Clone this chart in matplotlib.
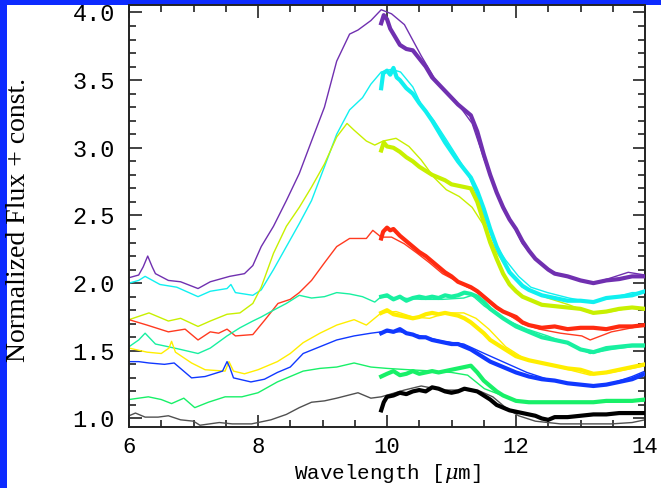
import matplotlib
matplotlib.use("Agg")
import matplotlib.pyplot as plt
from matplotlib.patches import Rectangle
from matplotlib.ticker import MultipleLocator, FormatStrFormatter

# ---------------- data ----------------
colors = ["#7030B0", "#10F0F0", "#C8F000", "#FF2A10", "#18F0A0",
          "#FFEE00", "#1038FF", "#18F068", "#000000"]
thin_colors = ["#7030B0", "#10F0F0", "#C8F000", "#FF3A20", "#18F0A0",
               "#FFEE00", "#1038FF", "#18F068", "#505050"]

purple_thin_x = [6.00, 6.15, 6.22, 6.29, 6.36, 6.41, 6.61, 6.80, 7.07, 7.26, 7.56, 7.79, 7.92, 8.05, 8.24, 8.44, 8.64, 8.83, 9.03, 9.22, 9.42, 9.55, 9.75, 9.91, 10.07, 10.27, 10.53, 10.79, 11.06, 11.32, 11.51, 11.71, 11.91, 12.10, 12.30, 12.49, 12.76, 13.02, 13.21, 13.48, 13.74, 14.0]
purple_thin_y = [2.04, 2.06, 2.12, 2.20, 2.12, 2.07, 2.02, 2.01, 1.96, 2.01, 2.05, 2.07, 2.13, 2.27, 2.42, 2.61, 2.81, 3.05, 3.30, 3.64, 3.84, 3.87, 3.94, 4.02, 3.99, 3.91, 3.68, 3.47, 3.35, 3.18, 2.91, 2.66, 2.47, 2.29, 2.18, 2.10, 2.05, 2.02, 2.00, 2.04, 2.08, 2.06]
purple_thick_x = [9.91, 9.95, 10.0, 10.05, 10.1, 10.15, 10.2, 10.3, 10.4, 10.5, 10.6, 10.7, 10.8, 10.9, 11.0, 11.1, 11.2, 11.3, 11.4, 11.5, 11.6, 11.7, 11.8, 11.9, 12.0, 12.1, 12.2, 12.3, 12.4, 12.5, 12.6, 12.8, 13.0, 13.2, 13.4, 13.6, 13.8, 14.0]
purple_thick_y = [3.92, 3.98, 3.95, 3.88, 3.84, 3.80, 3.76, 3.73, 3.72, 3.66, 3.60, 3.52, 3.47, 3.42, 3.37, 3.32, 3.28, 3.24, 3.12, 2.95, 2.80, 2.67, 2.56, 2.47, 2.40, 2.31, 2.24, 2.18, 2.14, 2.10, 2.07, 2.05, 2.02, 2.00, 2.02, 2.03, 2.05, 2.05]

cyan_thin_x = [6.00, 6.15, 6.25, 6.48, 6.74, 7.07, 7.26, 7.52, 7.58, 7.65, 7.92, 8.05, 8.24, 8.44, 8.64, 8.83, 9.03, 9.22, 9.42, 9.62, 9.75, 9.91, 10.07, 10.21, 10.40, 10.53, 10.73, 10.92, 11.12, 11.25, 11.38, 11.51, 11.64, 11.84, 12.04, 12.23, 12.49, 12.82, 13.15, 13.48, 13.80, 14.0]
cyan_thin_y = [2.00, 2.02, 2.05, 1.99, 1.97, 1.90, 1.94, 1.96, 1.99, 1.93, 1.91, 1.95, 2.10, 2.27, 2.44, 2.61, 2.86, 3.10, 3.28, 3.37, 3.47, 3.56, 3.58, 3.56, 3.45, 3.32, 3.20, 3.06, 2.91, 2.81, 2.66, 2.49, 2.32, 2.17, 2.05, 1.97, 1.93, 1.89, 1.86, 1.89, 1.93, 1.93]
cyan_thick_x = [9.91, 9.94, 10.0, 10.05, 10.1, 10.15, 10.2, 10.3, 10.4, 10.5, 10.6, 10.7, 10.8, 10.9, 11.0, 11.1, 11.2, 11.3, 11.4, 11.5, 11.6, 11.7, 11.8, 11.9, 12.0, 12.1, 12.2, 12.3, 12.4, 12.6, 12.8, 13.0, 13.2, 13.4, 13.6, 13.8, 14.0]
cyan_thick_y = [3.44, 3.55, 3.57, 3.54, 3.59, 3.52, 3.50, 3.44, 3.40, 3.33, 3.27, 3.20, 3.12, 3.04, 2.97, 2.90, 2.84, 2.78, 2.68, 2.55, 2.40, 2.27, 2.17, 2.08, 2.03, 1.98, 1.95, 1.93, 1.91, 1.89, 1.87, 1.87, 1.86, 1.89, 1.90, 1.91, 1.94]

lime_thin_x = [6.00, 6.31, 6.61, 6.80, 7.07, 7.26, 7.52, 7.72, 7.92, 8.05, 8.24, 8.44, 8.64, 8.83, 9.03, 9.22, 9.38, 9.49, 9.68, 9.81, 9.94, 10.14, 10.34, 10.53, 10.73, 10.92, 11.12, 11.32, 11.51, 11.71, 11.91, 12.10, 12.30, 12.49, 12.82, 13.15, 13.48, 13.80, 14.0]
lime_thin_y = [1.73, 1.78, 1.72, 1.74, 1.68, 1.72, 1.77, 1.78, 1.85, 1.97, 2.22, 2.42, 2.56, 2.71, 2.88, 3.08, 3.18, 3.13, 3.05, 3.02, 3.05, 3.07, 3.01, 2.91, 2.78, 2.69, 2.64, 2.56, 2.42, 2.22, 2.07, 1.97, 1.93, 1.89, 1.84, 1.78, 1.79, 1.82, 1.80]
lime_thick_x = [9.91, 9.95, 10.0, 10.1, 10.2, 10.3, 10.4, 10.5, 10.6, 10.7, 10.8, 10.9, 11.0, 11.1, 11.2, 11.3, 11.4, 11.5, 11.6, 11.7, 11.8, 11.9, 12.0, 12.1, 12.2, 12.3, 12.4, 12.6, 12.8, 13.0, 13.2, 13.4, 13.6, 13.8, 14.0]
lime_thick_y = [2.98, 3.04, 3.01, 3.00, 2.97, 2.93, 2.90, 2.86, 2.83, 2.80, 2.78, 2.76, 2.73, 2.72, 2.71, 2.70, 2.60, 2.45, 2.30, 2.18, 2.07, 1.99, 1.94, 1.90, 1.88, 1.86, 1.84, 1.83, 1.82, 1.81, 1.78, 1.79, 1.81, 1.82, 1.81]

red_thin_x = [6.00, 6.28, 6.61, 6.87, 7.07, 7.26, 7.39, 7.52, 7.65, 7.92, 8.11, 8.31, 8.50, 8.64, 8.83, 9.03, 9.22, 9.42, 9.68, 9.78, 9.91, 10.07, 10.27, 10.47, 10.66, 10.86, 11.06, 11.25, 11.45, 11.64, 11.84, 12.10, 12.36, 12.69, 13.02, 13.15, 13.48, 13.80, 14.0]
red_thin_y = [1.73, 1.69, 1.64, 1.66, 1.58, 1.64, 1.63, 1.66, 1.61, 1.62, 1.73, 1.85, 1.88, 1.93, 2.02, 2.15, 2.27, 2.33, 2.33, 2.39, 2.34, 2.34, 2.29, 2.22, 2.15, 2.07, 2.02, 1.97, 1.93, 1.85, 1.78, 1.70, 1.66, 1.63, 1.61, 1.58, 1.64, 1.67, 1.69]
red_thick_x = [9.91, 9.94, 10.0, 10.05, 10.1, 10.2, 10.3, 10.4, 10.5, 10.6, 10.7, 10.8, 10.9, 11.0, 11.1, 11.2, 11.3, 11.4, 11.5, 11.6, 11.7, 11.8, 11.9, 12.0, 12.1, 12.2, 12.3, 12.4, 12.6, 12.8, 13.0, 13.2, 13.4, 13.6, 13.8, 14.0]
red_thick_y = [2.33, 2.38, 2.41, 2.39, 2.40, 2.35, 2.31, 2.27, 2.23, 2.20, 2.16, 2.12, 2.08, 2.05, 2.01, 1.99, 1.97, 1.94, 1.90, 1.86, 1.82, 1.79, 1.77, 1.75, 1.71, 1.69, 1.68, 1.67, 1.68, 1.66, 1.67, 1.67, 1.66, 1.68, 1.68, 1.69]

teal_thin_x = [6.00, 6.15, 6.25, 6.41, 6.61, 6.80, 7.07, 7.26, 7.52, 7.72, 7.92, 8.05, 8.24, 8.44, 8.64, 8.83, 9.03, 9.22, 9.42, 9.62, 9.81, 9.91, 10.21, 10.53, 10.86, 11.19, 11.32, 11.51, 11.84, 12.17, 12.49, 12.82, 13.15, 13.48, 13.80, 14.0]
teal_thin_y = [1.53, 1.58, 1.63, 1.55, 1.53, 1.51, 1.48, 1.52, 1.61, 1.67, 1.72, 1.75, 1.80, 1.85, 1.91, 1.89, 1.90, 1.93, 1.92, 1.90, 1.86, 1.90, 1.89, 1.88, 1.88, 1.89, 1.91, 1.83, 1.73, 1.66, 1.61, 1.55, 1.48, 1.51, 1.53, 1.53]
teal_thick_x = [9.91, 10.0, 10.1, 10.2, 10.3, 10.4, 10.5, 10.6, 10.7, 10.8, 10.9, 11.0, 11.1, 11.2, 11.3, 11.4, 11.5, 11.6, 11.8, 12.0, 12.2, 12.4, 12.6, 12.8, 13.0, 13.2, 13.4, 13.6, 13.8, 14.0]
teal_thick_y = [1.90, 1.91, 1.88, 1.90, 1.87, 1.89, 1.90, 1.89, 1.90, 1.89, 1.91, 1.90, 1.91, 1.93, 1.92, 1.90, 1.86, 1.81, 1.74, 1.68, 1.64, 1.60, 1.58, 1.56, 1.51, 1.49, 1.52, 1.53, 1.54, 1.54]

yellow_thin_x = [6.00, 6.28, 6.50, 6.62, 6.66, 6.72, 6.97, 7.18, 7.49, 7.55, 7.62, 7.79, 8.00, 8.30, 8.50, 8.70, 8.96, 9.22, 9.49, 9.68, 9.91, 10.14, 10.40, 10.66, 10.92, 11.19, 11.38, 11.58, 11.84, 12.17, 12.49, 12.82, 13.15, 13.48, 13.80, 14.0]
yellow_thin_y = [1.52, 1.49, 1.48, 1.52, 1.57, 1.49, 1.41, 1.36, 1.35, 1.42, 1.35, 1.33, 1.36, 1.42, 1.48, 1.56, 1.63, 1.69, 1.73, 1.69, 1.78, 1.79, 1.75, 1.74, 1.78, 1.78, 1.74, 1.66, 1.53, 1.43, 1.40, 1.36, 1.32, 1.34, 1.37, 1.39]
yellow_thick_x = [9.91, 10.0, 10.1, 10.2, 10.3, 10.4, 10.5, 10.6, 10.7, 10.8, 10.9, 11.0, 11.1, 11.2, 11.3, 11.4, 11.5, 11.6, 11.7, 11.8, 11.9, 12.0, 12.2, 12.4, 12.6, 12.8, 13.0, 13.2, 13.4, 13.6, 13.8, 14.0]
yellow_thick_y = [1.78, 1.80, 1.77, 1.76, 1.75, 1.74, 1.75, 1.77, 1.78, 1.77, 1.78, 1.77, 1.76, 1.74, 1.71, 1.67, 1.63, 1.58, 1.55, 1.52, 1.49, 1.46, 1.43, 1.41, 1.39, 1.37, 1.36, 1.33, 1.34, 1.36, 1.38, 1.40]

blue_thin_x = [6.00, 6.15, 6.31, 6.55, 6.70, 6.97, 7.18, 7.45, 7.52, 7.56, 7.62, 7.89, 8.10, 8.30, 8.50, 8.70, 8.96, 9.22, 9.49, 9.75, 9.91, 10.21, 10.53, 10.86, 11.19, 11.51, 11.84, 12.17, 12.49, 12.82, 13.15, 13.48, 13.80, 14.0]
blue_thin_y = [1.42, 1.42, 1.41, 1.40, 1.41, 1.30, 1.31, 1.35, 1.42, 1.38, 1.30, 1.27, 1.29, 1.34, 1.38, 1.48, 1.53, 1.58, 1.61, 1.63, 1.64, 1.64, 1.61, 1.57, 1.55, 1.48, 1.41, 1.34, 1.29, 1.26, 1.24, 1.26, 1.31, 1.35]
blue_thick_x = [9.91, 10.0, 10.1, 10.2, 10.3, 10.4, 10.5, 10.6, 10.7, 10.8, 10.9, 11.0, 11.1, 11.2, 11.3, 11.4, 11.5, 11.6, 11.7, 11.8, 11.9, 12.0, 12.2, 12.4, 12.6, 12.8, 13.0, 13.2, 13.4, 13.6, 13.8, 14.0]
blue_thick_y = [1.63, 1.65, 1.64, 1.66, 1.63, 1.62, 1.60, 1.60, 1.58, 1.57, 1.56, 1.55, 1.55, 1.53, 1.51, 1.48, 1.45, 1.42, 1.40, 1.38, 1.36, 1.34, 1.31, 1.29, 1.28, 1.26, 1.25, 1.24, 1.25, 1.27, 1.29, 1.33]

green_thin_x = [6.00, 6.30, 6.50, 6.66, 6.85, 7.02, 7.23, 7.49, 7.75, 8.00, 8.30, 8.70, 8.96, 9.22, 9.49, 9.75, 10.0, 10.34, 10.73, 11.0, 11.25, 11.51, 11.84, 12.10, 12.49, 13.02, 13.48, 14.0]
green_thin_y = [1.14, 1.16, 1.14, 1.11, 1.15, 1.08, 1.12, 1.16, 1.16, 1.19, 1.27, 1.35, 1.37, 1.38, 1.41, 1.38, 1.37, 1.36, 1.35, 1.34, 1.32, 1.22, 1.16, 1.12, 1.12, 1.12, 1.12, 1.13]
green_thick_x = [9.91, 10.0, 10.1, 10.2, 10.3, 10.4, 10.5, 10.6, 10.7, 10.8, 10.9, 11.0, 11.1, 11.2, 11.3, 11.4, 11.5, 11.6, 11.7, 11.8, 11.9, 12.0, 12.2, 12.4, 12.6, 12.8, 13.0, 13.2, 13.4, 13.6, 13.8, 14.0]
green_thick_y = [1.31, 1.33, 1.35, 1.32, 1.33, 1.35, 1.33, 1.34, 1.35, 1.34, 1.35, 1.36, 1.37, 1.38, 1.39, 1.34, 1.28, 1.24, 1.20, 1.17, 1.15, 1.13, 1.12, 1.12, 1.12, 1.12, 1.12, 1.12, 1.13, 1.13, 1.13, 1.14]

black_thin_x = [6.00, 6.10, 6.25, 6.45, 6.61, 6.80, 7.00, 7.10, 7.40, 7.60, 7.90, 8.20, 8.44, 8.64, 8.83, 9.03, 9.22, 9.55, 9.75, 9.91, 10.27, 10.53, 10.86, 11.19, 11.45, 11.64, 11.84, 12.04, 12.30, 12.69, 13.02, 13.48, 13.80, 14.0]
black_thin_y = [1.02, 1.04, 1.01, 1.01, 1.02, 0.99, 0.98, 0.95, 0.97, 0.96, 0.96, 0.99, 1.03, 1.08, 1.12, 1.13, 1.15, 1.19, 1.15, 1.16, 1.21, 1.24, 1.21, 1.21, 1.20, 1.16, 1.08, 1.02, 0.98, 0.96, 0.96, 0.96, 0.97, 0.99]
black_thick_x = [9.91, 9.95, 10.0, 10.1, 10.2, 10.3, 10.4, 10.5, 10.6, 10.7, 10.8, 10.9, 11.0, 11.1, 11.2, 11.3, 11.4, 11.5, 11.6, 11.7, 11.8, 11.9, 12.0, 12.1, 12.2, 12.3, 12.4, 12.5, 12.6, 12.8, 13.0, 13.2, 13.4, 13.6, 13.8, 14.0]
black_thick_y = [1.06, 1.12, 1.16, 1.17, 1.19, 1.18, 1.20, 1.21, 1.20, 1.23, 1.22, 1.20, 1.19, 1.20, 1.22, 1.21, 1.20, 1.17, 1.14, 1.10, 1.08, 1.06, 1.05, 1.04, 1.03, 1.02, 1.00, 0.99, 1.01, 1.01, 1.02, 1.03, 1.03, 1.04, 1.04, 1.04]

thin_series = [(purple_thin_x, purple_thin_y), (cyan_thin_x, cyan_thin_y), (lime_thin_x, lime_thin_y),
               (red_thin_x, red_thin_y), (teal_thin_x, teal_thin_y), (yellow_thin_x, yellow_thin_y),
               (blue_thin_x, blue_thin_y), (green_thin_x, green_thin_y), (black_thin_x, black_thin_y)]
thick_series = [(purple_thick_x, purple_thick_y), (cyan_thick_x, cyan_thick_y), (lime_thick_x, lime_thick_y),
                (red_thick_x, red_thick_y), (teal_thick_x, teal_thick_y), (yellow_thick_x, yellow_thick_y),
                (blue_thick_x, blue_thick_y), (green_thick_x, green_thick_y), (black_thick_x, black_thick_y)]

x_ticks = [6, 8, 10, 12, 14]
y_ticks = [1.0, 1.5, 2.0, 2.5, 3.0, 3.5, 4.0]

# ---------------- figure ----------------
W, H = 661, 488
plt.rcParams["mathtext.fontset"] = "dejavuserif"
fig = plt.figure(figsize=(W / 100, H / 100), dpi=100)
fig.patch.set_facecolor("#0D2BFF")
fig.patches.append(Rectangle((7 / W, 0), 1 - 7 / W, 1 - 5 / H, transform=fig.transFigure,
                             facecolor="white", edgecolor="none", zorder=-5))

ax = fig.add_axes([129 / W, (H - 427) / H, (645 - 129) / W, (427 - 5) / H])
ax.set_facecolor("white")

for (tx, ty), c in zip(thin_series, thin_colors):
    ax.plot(tx, ty, color=c, lw=1.0, zorder=2)
for (kx, ky), c in zip(thick_series, colors):
    ax.plot(kx, ky, color=c, lw=3.0, zorder=3)

ax.set_xlim(6, 14)
ax.set_ylim(0.937, 4.055)
ax.set_xticks(x_ticks)
ax.set_yticks(y_ticks)
ax.xaxis.set_minor_locator(MultipleLocator(0.5))
ax.yaxis.set_minor_locator(MultipleLocator(0.1))
ax.yaxis.set_major_formatter(FormatStrFormatter("%.1f"))

ax.tick_params(which="both", direction="in", top=True, right=True, color="#222222", width=1.2)
ax.tick_params(which="major", length=9)
ax.tick_params(which="minor", length=5)
ax.tick_params(axis="x", which="major", pad=7)
ax.tick_params(axis="y", which="major", pad=10)
for lab in ax.get_xticklabels():
    lab.set_fontfamily("Liberation Mono")
    lab.set_fontsize(16)
for lab in ax.get_yticklabels():
    lab.set_fontfamily("Liberation Mono")
    lab.set_fontsize(17)
for sp in ax.spines.values():
    sp.set_linewidth(1.4)
    sp.set_color("#222222")

ax.set_xlabel(r"Wavelength [$\mu$m]", fontfamily="Liberation Mono", fontsize=15)
ax.xaxis.set_label_coords(0.5, -0.084)
ax.xaxis.label.set_verticalalignment("top")
ax.set_ylabel("Normalized Flux + const.", fontfamily="Liberation Serif", fontsize=20)
ax.yaxis.set_label_coords(-0.19, 0.49)

fig.savefig("out.png", dpi=100, facecolor=fig.get_facecolor())
